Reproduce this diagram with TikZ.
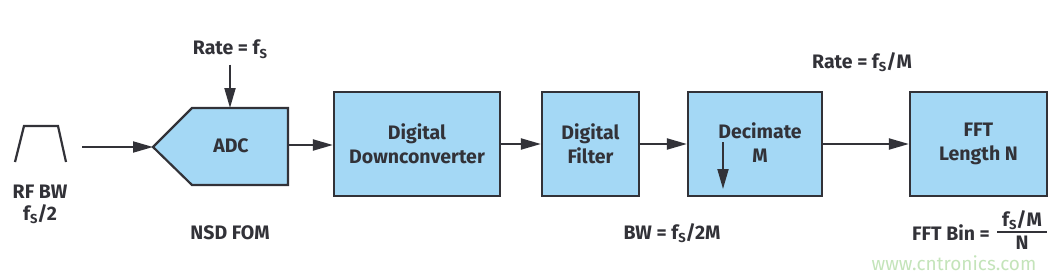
\documentclass[tikz,border=0pt]{standalone}
\usepackage{fontspec}
\setmainfont{Fira Sans}
\usetikzlibrary{arrows.meta}
\definecolor{boxfill}{RGB}{164,216,245}
\definecolor{ink}{RGB}{50,50,56}
\definecolor{wm}{RGB}{196,228,186}
\newcommand{\lowS}{\raisebox{-0.35ex}{\fontsize{13}{13}\selectfont S}}
\tikzset{
  blk/.style={draw=ink, line width=2.2pt, fill=boxfill, align=center, text=ink,
    font=\fontsize{19.5}{24}\selectfont\bfseries, inner sep=0pt},
  lbl/.style={text=ink, font=\fontsize{19.5}{24}\selectfont\bfseries, align=center, inner sep=0pt},
  conn/.style={draw=ink, line width=2pt, -{Triangle[length=20pt,width=11pt]}},
}
\begin{document}
\begin{tikzpicture}[x=1pt,y=-1pt]
\useasboundingbox (0,0) rectangle (1055,278);
% RF filter
\draw[ink, line width=2.2pt, line join=miter] (15,162) -- (24,126) -- (58,126) -- (66,162);
\node[lbl] (rfbw) at (40,192) {RF BW};
\node[lbl] (rffs) at (40,214) {f\lowS/2};
\coordinate (rfout) at (82,147);
% ADC
\draw[draw=ink, line width=2.2pt, fill=boxfill, line join=miter] (153,147) -- (192,108) -- (288,108) -- (288,185) -- (192,185) -- cycle;
\node[lbl] (adc) at (231,146) {ADC};
\coordinate (adcin) at (153,147);
\coordinate (adcout) at (288,145);
\coordinate (adctop) at (230,108);
\node[lbl] (rate) at (230,49) {Rate = f\lowS};
\node[lbl] (nsd) at (230,233) {NSD FOM};
% blocks
\node[blk, minimum width=166pt, minimum height=104pt] (ddc) at (417,144) {Digital\\Downconverter};
\node[blk, minimum width=97pt, minimum height=104pt] (filt) at (590.5,144) {Digital\\Filter};
\node[blk, minimum width=134pt, minimum height=104pt] (dec) at (755,144) {};
\node[lbl] (dectxt) at (760,143) {Decimate\\M};
\coordinate (dectop) at (723,142);
\coordinate (decbot) at (723,189);
\node[blk, minimum width=137pt, minimum height=104pt] (fft) at (978.5,144) {FFT\\Length N};
% labels
\node[lbl] (bw) at (672,233) {BW = f\lowS/2M};
\node[lbl] (ratem) at (862,62) {Rate = f\lowS/M};
\node[lbl] (bin) at (951,233) {FFT Bin =};
\node[lbl] (binnum) at (1022,220) {f\lowS/M};
\node[lbl] (binden) at (1022,243) {N};
\draw[ink, line width=1.8pt] (997,232) -- (1047,232);
\node[text=wm, font=\fontsize{19}{19}\selectfont] (wmark) at (954,263) {www.cntronics.com};
% connectors
\draw[conn] (rfout) -- (adcin);
\draw[conn] (rate.south) ++(0,6) -- (adctop);
\draw[conn] (adcout) -- (ddc.west |- adcout);
\draw[conn] (ddc.east) -- (filt.west);
\draw[conn] (filt.east) -- (dec.west);
\draw[conn] (dec.east) -- (fft.west);
\draw[conn] (dectop) -- (decbot);
\end{tikzpicture}
\end{document}
